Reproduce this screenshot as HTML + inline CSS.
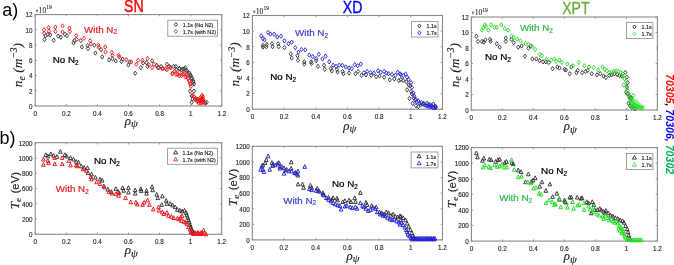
<!DOCTYPE html>
<html><head><meta charset="utf-8"><style>
html,body{margin:0;padding:0;background:#fff;width:674px;height:265px;overflow:hidden}
svg{display:block;filter:blur(0.22px)}
text{font-family:"Liberation Sans",sans-serif}
.tk{font-size:6.3px;fill:#2a2a2a;stroke:#2a2a2a;stroke-width:0.15px}
.xl{font-family:"Liberation Serif",serif;font-style:italic;font-size:13px;fill:#222;stroke:#222;stroke-width:0.15px}
.yl{font-family:"Liberation Serif",serif;font-style:italic;font-size:13.4px;fill:#222;stroke:#222;stroke-width:0.15px}
.ss{font-family:"Liberation Sans",sans-serif;font-style:normal}
.sub{font-size:8px}
.mult{font-family:"Liberation Serif",serif;font-size:6px;fill:#333;stroke:#333;stroke-width:0.12px}
.lg{font-size:5.4px;fill:#111;stroke:#111;stroke-width:0.12px}
.an{font-size:9.8px;stroke-width:0.22px}
.s2{font-size:6.3px}
.ti{font-size:17px;stroke-width:0.4px}
.pl{font-size:18px;fill:#000}
.sh{font-size:10.6px;font-weight:bold;font-style:italic}
</style></head><body>
<svg width="674" height="265" viewBox="0 0 674 265">
<rect x="35.2" y="14.6" width="186.6" height="91.4" fill="none" stroke="#8a8a8a" stroke-width="1.1"/>
<line x1="35.2" y1="106.0" x2="35.2" y2="104.2" stroke="#8a8a8a" stroke-width="0.8"/>
<line x1="35.2" y1="14.6" x2="35.2" y2="16.4" stroke="#8a8a8a" stroke-width="0.8"/>
<text x="35.2" y="115.6" class="tk" text-anchor="middle">0</text>
<line x1="66.3" y1="106.0" x2="66.3" y2="104.2" stroke="#8a8a8a" stroke-width="0.8"/>
<line x1="66.3" y1="14.6" x2="66.3" y2="16.4" stroke="#8a8a8a" stroke-width="0.8"/>
<text x="66.3" y="115.6" class="tk" text-anchor="middle">0.2</text>
<line x1="97.4" y1="106.0" x2="97.4" y2="104.2" stroke="#8a8a8a" stroke-width="0.8"/>
<line x1="97.4" y1="14.6" x2="97.4" y2="16.4" stroke="#8a8a8a" stroke-width="0.8"/>
<text x="97.4" y="115.6" class="tk" text-anchor="middle">0.4</text>
<line x1="128.5" y1="106.0" x2="128.5" y2="104.2" stroke="#8a8a8a" stroke-width="0.8"/>
<line x1="128.5" y1="14.6" x2="128.5" y2="16.4" stroke="#8a8a8a" stroke-width="0.8"/>
<text x="128.5" y="115.6" class="tk" text-anchor="middle">0.6</text>
<line x1="159.6" y1="106.0" x2="159.6" y2="104.2" stroke="#8a8a8a" stroke-width="0.8"/>
<line x1="159.6" y1="14.6" x2="159.6" y2="16.4" stroke="#8a8a8a" stroke-width="0.8"/>
<text x="159.6" y="115.6" class="tk" text-anchor="middle">0.8</text>
<line x1="190.7" y1="106.0" x2="190.7" y2="104.2" stroke="#8a8a8a" stroke-width="0.8"/>
<line x1="190.7" y1="14.6" x2="190.7" y2="16.4" stroke="#8a8a8a" stroke-width="0.8"/>
<text x="190.7" y="115.6" class="tk" text-anchor="middle">1</text>
<line x1="221.8" y1="106.0" x2="221.8" y2="104.2" stroke="#8a8a8a" stroke-width="0.8"/>
<line x1="221.8" y1="14.6" x2="221.8" y2="16.4" stroke="#8a8a8a" stroke-width="0.8"/>
<text x="221.8" y="115.6" class="tk" text-anchor="middle">1.2</text>
<line x1="35.2" y1="106.0" x2="37.0" y2="106.0" stroke="#8a8a8a" stroke-width="0.8"/>
<line x1="221.8" y1="106.0" x2="220.0" y2="106.0" stroke="#8a8a8a" stroke-width="0.8"/>
<text x="32.6" y="108.8" class="tk" text-anchor="end">0</text>
<line x1="35.2" y1="90.8" x2="37.0" y2="90.8" stroke="#8a8a8a" stroke-width="0.8"/>
<line x1="221.8" y1="90.8" x2="220.0" y2="90.8" stroke="#8a8a8a" stroke-width="0.8"/>
<text x="32.6" y="93.6" class="tk" text-anchor="end">2</text>
<line x1="35.2" y1="75.5" x2="37.0" y2="75.5" stroke="#8a8a8a" stroke-width="0.8"/>
<line x1="221.8" y1="75.5" x2="220.0" y2="75.5" stroke="#8a8a8a" stroke-width="0.8"/>
<text x="32.6" y="78.3" class="tk" text-anchor="end">4</text>
<line x1="35.2" y1="60.3" x2="37.0" y2="60.3" stroke="#8a8a8a" stroke-width="0.8"/>
<line x1="221.8" y1="60.3" x2="220.0" y2="60.3" stroke="#8a8a8a" stroke-width="0.8"/>
<text x="32.6" y="63.1" class="tk" text-anchor="end">6</text>
<line x1="35.2" y1="45.1" x2="37.0" y2="45.1" stroke="#8a8a8a" stroke-width="0.8"/>
<line x1="221.8" y1="45.1" x2="220.0" y2="45.1" stroke="#8a8a8a" stroke-width="0.8"/>
<text x="32.6" y="47.9" class="tk" text-anchor="end">8</text>
<line x1="35.2" y1="29.8" x2="37.0" y2="29.8" stroke="#8a8a8a" stroke-width="0.8"/>
<line x1="221.8" y1="29.8" x2="220.0" y2="29.8" stroke="#8a8a8a" stroke-width="0.8"/>
<text x="32.6" y="32.6" class="tk" text-anchor="end">10</text>
<line x1="35.2" y1="14.6" x2="37.0" y2="14.6" stroke="#8a8a8a" stroke-width="0.8"/>
<line x1="221.8" y1="14.6" x2="220.0" y2="14.6" stroke="#8a8a8a" stroke-width="0.8"/>
<text x="32.6" y="17.4" class="tk" text-anchor="end">12</text>
<text x="131.4" y="124.5" class="xl" text-anchor="middle">&#961;<tspan font-size="11" dy="2.5">&#968;</tspan></text>
<text x="35.5" y="12.7" class="mult"><tspan font-size="5.5">&#215;</tspan><tspan font-size="7.6">10</tspan><tspan dy="-3.6" font-size="5.6">19</tspan></text>
<text transform="translate(21.9,65.1) rotate(-90)" class="yl" text-anchor="middle">n<tspan font-size="9.5" dy="2.6">e</tspan><tspan dy="-2.6" dx="3.6">(m</tspan><tspan dy="-4.6" font-size="9.5">&#8722;3</tspan><tspan dy="4.6">)</tspan></text>
<rect x="252.4" y="15.5" width="190.1" height="93.7" fill="none" stroke="#8a8a8a" stroke-width="1.1"/>
<line x1="252.4" y1="109.2" x2="252.4" y2="107.4" stroke="#8a8a8a" stroke-width="0.8"/>
<line x1="252.4" y1="15.5" x2="252.4" y2="17.3" stroke="#8a8a8a" stroke-width="0.8"/>
<text x="252.4" y="118.8" class="tk" text-anchor="middle">0</text>
<line x1="284.1" y1="109.2" x2="284.1" y2="107.4" stroke="#8a8a8a" stroke-width="0.8"/>
<line x1="284.1" y1="15.5" x2="284.1" y2="17.3" stroke="#8a8a8a" stroke-width="0.8"/>
<text x="284.1" y="118.8" class="tk" text-anchor="middle">0.2</text>
<line x1="315.8" y1="109.2" x2="315.8" y2="107.4" stroke="#8a8a8a" stroke-width="0.8"/>
<line x1="315.8" y1="15.5" x2="315.8" y2="17.3" stroke="#8a8a8a" stroke-width="0.8"/>
<text x="315.8" y="118.8" class="tk" text-anchor="middle">0.4</text>
<line x1="347.5" y1="109.2" x2="347.5" y2="107.4" stroke="#8a8a8a" stroke-width="0.8"/>
<line x1="347.5" y1="15.5" x2="347.5" y2="17.3" stroke="#8a8a8a" stroke-width="0.8"/>
<text x="347.5" y="118.8" class="tk" text-anchor="middle">0.6</text>
<line x1="379.1" y1="109.2" x2="379.1" y2="107.4" stroke="#8a8a8a" stroke-width="0.8"/>
<line x1="379.1" y1="15.5" x2="379.1" y2="17.3" stroke="#8a8a8a" stroke-width="0.8"/>
<text x="379.1" y="118.8" class="tk" text-anchor="middle">0.8</text>
<line x1="410.8" y1="109.2" x2="410.8" y2="107.4" stroke="#8a8a8a" stroke-width="0.8"/>
<line x1="410.8" y1="15.5" x2="410.8" y2="17.3" stroke="#8a8a8a" stroke-width="0.8"/>
<text x="410.8" y="118.8" class="tk" text-anchor="middle">1</text>
<line x1="442.5" y1="109.2" x2="442.5" y2="107.4" stroke="#8a8a8a" stroke-width="0.8"/>
<line x1="442.5" y1="15.5" x2="442.5" y2="17.3" stroke="#8a8a8a" stroke-width="0.8"/>
<text x="442.5" y="118.8" class="tk" text-anchor="middle">1.2</text>
<line x1="252.4" y1="109.2" x2="254.2" y2="109.2" stroke="#8a8a8a" stroke-width="0.8"/>
<line x1="442.5" y1="109.2" x2="440.7" y2="109.2" stroke="#8a8a8a" stroke-width="0.8"/>
<text x="249.8" y="112.0" class="tk" text-anchor="end">0</text>
<line x1="252.4" y1="93.6" x2="254.2" y2="93.6" stroke="#8a8a8a" stroke-width="0.8"/>
<line x1="442.5" y1="93.6" x2="440.7" y2="93.6" stroke="#8a8a8a" stroke-width="0.8"/>
<text x="249.8" y="96.4" class="tk" text-anchor="end">2</text>
<line x1="252.4" y1="78.0" x2="254.2" y2="78.0" stroke="#8a8a8a" stroke-width="0.8"/>
<line x1="442.5" y1="78.0" x2="440.7" y2="78.0" stroke="#8a8a8a" stroke-width="0.8"/>
<text x="249.8" y="80.8" class="tk" text-anchor="end">4</text>
<line x1="252.4" y1="62.4" x2="254.2" y2="62.4" stroke="#8a8a8a" stroke-width="0.8"/>
<line x1="442.5" y1="62.4" x2="440.7" y2="62.4" stroke="#8a8a8a" stroke-width="0.8"/>
<text x="249.8" y="65.2" class="tk" text-anchor="end">6</text>
<line x1="252.4" y1="46.7" x2="254.2" y2="46.7" stroke="#8a8a8a" stroke-width="0.8"/>
<line x1="442.5" y1="46.7" x2="440.7" y2="46.7" stroke="#8a8a8a" stroke-width="0.8"/>
<text x="249.8" y="49.5" class="tk" text-anchor="end">8</text>
<line x1="252.4" y1="31.1" x2="254.2" y2="31.1" stroke="#8a8a8a" stroke-width="0.8"/>
<line x1="442.5" y1="31.1" x2="440.7" y2="31.1" stroke="#8a8a8a" stroke-width="0.8"/>
<text x="249.8" y="33.9" class="tk" text-anchor="end">10</text>
<line x1="252.4" y1="15.5" x2="254.2" y2="15.5" stroke="#8a8a8a" stroke-width="0.8"/>
<line x1="442.5" y1="15.5" x2="440.7" y2="15.5" stroke="#8a8a8a" stroke-width="0.8"/>
<text x="249.8" y="18.3" class="tk" text-anchor="end">12</text>
<text x="349.7" y="129.5" class="xl" text-anchor="middle">&#961;<tspan font-size="11" dy="2.5">&#968;</tspan></text>
<text x="252.7" y="13.6" class="mult"><tspan font-size="5.5">&#215;</tspan><tspan font-size="7.6">10</tspan><tspan dy="-3.6" font-size="5.6">19</tspan></text>
<text transform="translate(239.1,64.4) rotate(-90)" class="yl" text-anchor="middle">n<tspan font-size="9.5" dy="2.6">e</tspan><tspan dy="-2.6" dx="3.6">(m</tspan><tspan dy="-4.6" font-size="9.5">&#8722;3</tspan><tspan dy="4.6">)</tspan></text>
<rect x="471.3" y="17.0" width="186.1" height="93.0" fill="none" stroke="#8a8a8a" stroke-width="1.1"/>
<line x1="471.3" y1="110.0" x2="471.3" y2="108.2" stroke="#8a8a8a" stroke-width="0.8"/>
<line x1="471.3" y1="17.0" x2="471.3" y2="18.8" stroke="#8a8a8a" stroke-width="0.8"/>
<text x="471.3" y="119.6" class="tk" text-anchor="middle">0</text>
<line x1="502.3" y1="110.0" x2="502.3" y2="108.2" stroke="#8a8a8a" stroke-width="0.8"/>
<line x1="502.3" y1="17.0" x2="502.3" y2="18.8" stroke="#8a8a8a" stroke-width="0.8"/>
<text x="502.3" y="119.6" class="tk" text-anchor="middle">0.2</text>
<line x1="533.3" y1="110.0" x2="533.3" y2="108.2" stroke="#8a8a8a" stroke-width="0.8"/>
<line x1="533.3" y1="17.0" x2="533.3" y2="18.8" stroke="#8a8a8a" stroke-width="0.8"/>
<text x="533.3" y="119.6" class="tk" text-anchor="middle">0.4</text>
<line x1="564.4" y1="110.0" x2="564.4" y2="108.2" stroke="#8a8a8a" stroke-width="0.8"/>
<line x1="564.4" y1="17.0" x2="564.4" y2="18.8" stroke="#8a8a8a" stroke-width="0.8"/>
<text x="564.4" y="119.6" class="tk" text-anchor="middle">0.6</text>
<line x1="595.4" y1="110.0" x2="595.4" y2="108.2" stroke="#8a8a8a" stroke-width="0.8"/>
<line x1="595.4" y1="17.0" x2="595.4" y2="18.8" stroke="#8a8a8a" stroke-width="0.8"/>
<text x="595.4" y="119.6" class="tk" text-anchor="middle">0.8</text>
<line x1="626.4" y1="110.0" x2="626.4" y2="108.2" stroke="#8a8a8a" stroke-width="0.8"/>
<line x1="626.4" y1="17.0" x2="626.4" y2="18.8" stroke="#8a8a8a" stroke-width="0.8"/>
<text x="626.4" y="119.6" class="tk" text-anchor="middle">1</text>
<line x1="657.4" y1="110.0" x2="657.4" y2="108.2" stroke="#8a8a8a" stroke-width="0.8"/>
<line x1="657.4" y1="17.0" x2="657.4" y2="18.8" stroke="#8a8a8a" stroke-width="0.8"/>
<text x="657.4" y="119.6" class="tk" text-anchor="middle">1.2</text>
<line x1="471.3" y1="110.0" x2="473.1" y2="110.0" stroke="#8a8a8a" stroke-width="0.8"/>
<line x1="657.4" y1="110.0" x2="655.6" y2="110.0" stroke="#8a8a8a" stroke-width="0.8"/>
<text x="468.7" y="112.8" class="tk" text-anchor="end">0</text>
<line x1="471.3" y1="94.5" x2="473.1" y2="94.5" stroke="#8a8a8a" stroke-width="0.8"/>
<line x1="657.4" y1="94.5" x2="655.6" y2="94.5" stroke="#8a8a8a" stroke-width="0.8"/>
<text x="468.7" y="97.3" class="tk" text-anchor="end">2</text>
<line x1="471.3" y1="79.0" x2="473.1" y2="79.0" stroke="#8a8a8a" stroke-width="0.8"/>
<line x1="657.4" y1="79.0" x2="655.6" y2="79.0" stroke="#8a8a8a" stroke-width="0.8"/>
<text x="468.7" y="81.8" class="tk" text-anchor="end">4</text>
<line x1="471.3" y1="63.5" x2="473.1" y2="63.5" stroke="#8a8a8a" stroke-width="0.8"/>
<line x1="657.4" y1="63.5" x2="655.6" y2="63.5" stroke="#8a8a8a" stroke-width="0.8"/>
<text x="468.7" y="66.3" class="tk" text-anchor="end">6</text>
<line x1="471.3" y1="48.0" x2="473.1" y2="48.0" stroke="#8a8a8a" stroke-width="0.8"/>
<line x1="657.4" y1="48.0" x2="655.6" y2="48.0" stroke="#8a8a8a" stroke-width="0.8"/>
<text x="468.7" y="50.8" class="tk" text-anchor="end">8</text>
<line x1="471.3" y1="32.5" x2="473.1" y2="32.5" stroke="#8a8a8a" stroke-width="0.8"/>
<line x1="657.4" y1="32.5" x2="655.6" y2="32.5" stroke="#8a8a8a" stroke-width="0.8"/>
<text x="468.7" y="35.3" class="tk" text-anchor="end">10</text>
<line x1="471.3" y1="17.0" x2="473.1" y2="17.0" stroke="#8a8a8a" stroke-width="0.8"/>
<line x1="657.4" y1="17.0" x2="655.6" y2="17.0" stroke="#8a8a8a" stroke-width="0.8"/>
<text x="468.7" y="19.8" class="tk" text-anchor="end">12</text>
<text x="570.4" y="130.0" class="xl" text-anchor="middle">&#961;<tspan font-size="11" dy="2.5">&#968;</tspan></text>
<text x="471.6" y="15.1" class="mult"><tspan font-size="5.5">&#215;</tspan><tspan font-size="7.6">10</tspan><tspan dy="-3.6" font-size="5.6">19</tspan></text>
<text transform="translate(458.5,65.1) rotate(-90)" class="yl" text-anchor="middle">n<tspan font-size="9.5" dy="2.6">e</tspan><tspan dy="-2.6" dx="3.6">(m</tspan><tspan dy="-4.6" font-size="9.5">&#8722;3</tspan><tspan dy="4.6">)</tspan></text>
<rect x="35.2" y="142.7" width="186.5" height="91.6" fill="none" stroke="#8a8a8a" stroke-width="1.1"/>
<line x1="35.2" y1="234.3" x2="35.2" y2="232.5" stroke="#8a8a8a" stroke-width="0.8"/>
<line x1="35.2" y1="142.7" x2="35.2" y2="144.5" stroke="#8a8a8a" stroke-width="0.8"/>
<text x="35.2" y="243.9" class="tk" text-anchor="middle">0</text>
<line x1="66.3" y1="234.3" x2="66.3" y2="232.5" stroke="#8a8a8a" stroke-width="0.8"/>
<line x1="66.3" y1="142.7" x2="66.3" y2="144.5" stroke="#8a8a8a" stroke-width="0.8"/>
<text x="66.3" y="243.9" class="tk" text-anchor="middle">0.2</text>
<line x1="97.4" y1="234.3" x2="97.4" y2="232.5" stroke="#8a8a8a" stroke-width="0.8"/>
<line x1="97.4" y1="142.7" x2="97.4" y2="144.5" stroke="#8a8a8a" stroke-width="0.8"/>
<text x="97.4" y="243.9" class="tk" text-anchor="middle">0.4</text>
<line x1="128.5" y1="234.3" x2="128.5" y2="232.5" stroke="#8a8a8a" stroke-width="0.8"/>
<line x1="128.5" y1="142.7" x2="128.5" y2="144.5" stroke="#8a8a8a" stroke-width="0.8"/>
<text x="128.5" y="243.9" class="tk" text-anchor="middle">0.6</text>
<line x1="159.5" y1="234.3" x2="159.5" y2="232.5" stroke="#8a8a8a" stroke-width="0.8"/>
<line x1="159.5" y1="142.7" x2="159.5" y2="144.5" stroke="#8a8a8a" stroke-width="0.8"/>
<text x="159.5" y="243.9" class="tk" text-anchor="middle">0.8</text>
<line x1="190.6" y1="234.3" x2="190.6" y2="232.5" stroke="#8a8a8a" stroke-width="0.8"/>
<line x1="190.6" y1="142.7" x2="190.6" y2="144.5" stroke="#8a8a8a" stroke-width="0.8"/>
<text x="190.6" y="243.9" class="tk" text-anchor="middle">1</text>
<line x1="221.7" y1="234.3" x2="221.7" y2="232.5" stroke="#8a8a8a" stroke-width="0.8"/>
<line x1="221.7" y1="142.7" x2="221.7" y2="144.5" stroke="#8a8a8a" stroke-width="0.8"/>
<text x="221.7" y="243.9" class="tk" text-anchor="middle">1.2</text>
<line x1="35.2" y1="234.3" x2="37.0" y2="234.3" stroke="#8a8a8a" stroke-width="0.8"/>
<line x1="221.7" y1="234.3" x2="219.9" y2="234.3" stroke="#8a8a8a" stroke-width="0.8"/>
<text x="32.6" y="237.1" class="tk" text-anchor="end">0</text>
<line x1="35.2" y1="219.0" x2="37.0" y2="219.0" stroke="#8a8a8a" stroke-width="0.8"/>
<line x1="221.7" y1="219.0" x2="219.9" y2="219.0" stroke="#8a8a8a" stroke-width="0.8"/>
<text x="32.6" y="221.8" class="tk" text-anchor="end">200</text>
<line x1="35.2" y1="203.8" x2="37.0" y2="203.8" stroke="#8a8a8a" stroke-width="0.8"/>
<line x1="221.7" y1="203.8" x2="219.9" y2="203.8" stroke="#8a8a8a" stroke-width="0.8"/>
<text x="32.6" y="206.6" class="tk" text-anchor="end">400</text>
<line x1="35.2" y1="188.5" x2="37.0" y2="188.5" stroke="#8a8a8a" stroke-width="0.8"/>
<line x1="221.7" y1="188.5" x2="219.9" y2="188.5" stroke="#8a8a8a" stroke-width="0.8"/>
<text x="32.6" y="191.3" class="tk" text-anchor="end">600</text>
<line x1="35.2" y1="173.2" x2="37.0" y2="173.2" stroke="#8a8a8a" stroke-width="0.8"/>
<line x1="221.7" y1="173.2" x2="219.9" y2="173.2" stroke="#8a8a8a" stroke-width="0.8"/>
<text x="32.6" y="176.0" class="tk" text-anchor="end">800</text>
<line x1="35.2" y1="158.0" x2="37.0" y2="158.0" stroke="#8a8a8a" stroke-width="0.8"/>
<line x1="221.7" y1="158.0" x2="219.9" y2="158.0" stroke="#8a8a8a" stroke-width="0.8"/>
<text x="32.6" y="160.8" class="tk" text-anchor="end">1000</text>
<line x1="35.2" y1="142.7" x2="37.0" y2="142.7" stroke="#8a8a8a" stroke-width="0.8"/>
<line x1="221.7" y1="142.7" x2="219.9" y2="142.7" stroke="#8a8a8a" stroke-width="0.8"/>
<text x="32.6" y="145.5" class="tk" text-anchor="end">1200</text>
<text x="131.4" y="254.0" class="xl" text-anchor="middle">&#961;<tspan font-size="11" dy="2.5">&#968;</tspan></text>
<text transform="translate(18.6,190.7) rotate(-90)" class="yl" font-size="11" text-anchor="middle">T<tspan font-size="9" dy="2.3">e</tspan><tspan dy="-2.3" dx="4.5" class="ss" font-size="11.3">(eV)</tspan></text>
<rect x="252.3" y="146.3" width="190.2" height="93.6" fill="none" stroke="#8a8a8a" stroke-width="1.1"/>
<line x1="252.3" y1="239.9" x2="252.3" y2="238.1" stroke="#8a8a8a" stroke-width="0.8"/>
<line x1="252.3" y1="146.3" x2="252.3" y2="148.1" stroke="#8a8a8a" stroke-width="0.8"/>
<text x="252.3" y="249.5" class="tk" text-anchor="middle">0</text>
<line x1="284.0" y1="239.9" x2="284.0" y2="238.1" stroke="#8a8a8a" stroke-width="0.8"/>
<line x1="284.0" y1="146.3" x2="284.0" y2="148.1" stroke="#8a8a8a" stroke-width="0.8"/>
<text x="284.0" y="249.5" class="tk" text-anchor="middle">0.2</text>
<line x1="315.7" y1="239.9" x2="315.7" y2="238.1" stroke="#8a8a8a" stroke-width="0.8"/>
<line x1="315.7" y1="146.3" x2="315.7" y2="148.1" stroke="#8a8a8a" stroke-width="0.8"/>
<text x="315.7" y="249.5" class="tk" text-anchor="middle">0.4</text>
<line x1="347.4" y1="239.9" x2="347.4" y2="238.1" stroke="#8a8a8a" stroke-width="0.8"/>
<line x1="347.4" y1="146.3" x2="347.4" y2="148.1" stroke="#8a8a8a" stroke-width="0.8"/>
<text x="347.4" y="249.5" class="tk" text-anchor="middle">0.6</text>
<line x1="379.1" y1="239.9" x2="379.1" y2="238.1" stroke="#8a8a8a" stroke-width="0.8"/>
<line x1="379.1" y1="146.3" x2="379.1" y2="148.1" stroke="#8a8a8a" stroke-width="0.8"/>
<text x="379.1" y="249.5" class="tk" text-anchor="middle">0.8</text>
<line x1="410.8" y1="239.9" x2="410.8" y2="238.1" stroke="#8a8a8a" stroke-width="0.8"/>
<line x1="410.8" y1="146.3" x2="410.8" y2="148.1" stroke="#8a8a8a" stroke-width="0.8"/>
<text x="410.8" y="249.5" class="tk" text-anchor="middle">1</text>
<line x1="442.5" y1="239.9" x2="442.5" y2="238.1" stroke="#8a8a8a" stroke-width="0.8"/>
<line x1="442.5" y1="146.3" x2="442.5" y2="148.1" stroke="#8a8a8a" stroke-width="0.8"/>
<text x="442.5" y="249.5" class="tk" text-anchor="middle">1.2</text>
<line x1="252.3" y1="239.9" x2="254.1" y2="239.9" stroke="#8a8a8a" stroke-width="0.8"/>
<line x1="442.5" y1="239.9" x2="440.7" y2="239.9" stroke="#8a8a8a" stroke-width="0.8"/>
<text x="249.7" y="242.7" class="tk" text-anchor="end">0</text>
<line x1="252.3" y1="224.3" x2="254.1" y2="224.3" stroke="#8a8a8a" stroke-width="0.8"/>
<line x1="442.5" y1="224.3" x2="440.7" y2="224.3" stroke="#8a8a8a" stroke-width="0.8"/>
<text x="249.7" y="227.1" class="tk" text-anchor="end">200</text>
<line x1="252.3" y1="208.7" x2="254.1" y2="208.7" stroke="#8a8a8a" stroke-width="0.8"/>
<line x1="442.5" y1="208.7" x2="440.7" y2="208.7" stroke="#8a8a8a" stroke-width="0.8"/>
<text x="249.7" y="211.5" class="tk" text-anchor="end">400</text>
<line x1="252.3" y1="193.1" x2="254.1" y2="193.1" stroke="#8a8a8a" stroke-width="0.8"/>
<line x1="442.5" y1="193.1" x2="440.7" y2="193.1" stroke="#8a8a8a" stroke-width="0.8"/>
<text x="249.7" y="195.9" class="tk" text-anchor="end">600</text>
<line x1="252.3" y1="177.5" x2="254.1" y2="177.5" stroke="#8a8a8a" stroke-width="0.8"/>
<line x1="442.5" y1="177.5" x2="440.7" y2="177.5" stroke="#8a8a8a" stroke-width="0.8"/>
<text x="249.7" y="180.3" class="tk" text-anchor="end">800</text>
<line x1="252.3" y1="161.9" x2="254.1" y2="161.9" stroke="#8a8a8a" stroke-width="0.8"/>
<line x1="442.5" y1="161.9" x2="440.7" y2="161.9" stroke="#8a8a8a" stroke-width="0.8"/>
<text x="249.7" y="164.7" class="tk" text-anchor="end">1000</text>
<line x1="252.3" y1="146.3" x2="254.1" y2="146.3" stroke="#8a8a8a" stroke-width="0.8"/>
<line x1="442.5" y1="146.3" x2="440.7" y2="146.3" stroke="#8a8a8a" stroke-width="0.8"/>
<text x="249.7" y="149.1" class="tk" text-anchor="end">1200</text>
<text x="353.0" y="259.5" class="xl" text-anchor="middle">&#961;<tspan font-size="11" dy="2.5">&#968;</tspan></text>
<text transform="translate(236.7,187.5) rotate(-90)" class="yl" font-size="11" text-anchor="middle">T<tspan font-size="9" dy="2.3">e</tspan><tspan dy="-2.3" dx="4.5" class="ss" font-size="11.3">(eV)</tspan></text>
<rect x="471.4" y="147.6" width="186.0" height="93.5" fill="none" stroke="#8a8a8a" stroke-width="1.1"/>
<line x1="471.4" y1="241.1" x2="471.4" y2="239.3" stroke="#8a8a8a" stroke-width="0.8"/>
<line x1="471.4" y1="147.6" x2="471.4" y2="149.4" stroke="#8a8a8a" stroke-width="0.8"/>
<text x="471.4" y="250.7" class="tk" text-anchor="middle">0</text>
<line x1="502.4" y1="241.1" x2="502.4" y2="239.3" stroke="#8a8a8a" stroke-width="0.8"/>
<line x1="502.4" y1="147.6" x2="502.4" y2="149.4" stroke="#8a8a8a" stroke-width="0.8"/>
<text x="502.4" y="250.7" class="tk" text-anchor="middle">0.2</text>
<line x1="533.4" y1="241.1" x2="533.4" y2="239.3" stroke="#8a8a8a" stroke-width="0.8"/>
<line x1="533.4" y1="147.6" x2="533.4" y2="149.4" stroke="#8a8a8a" stroke-width="0.8"/>
<text x="533.4" y="250.7" class="tk" text-anchor="middle">0.4</text>
<line x1="564.4" y1="241.1" x2="564.4" y2="239.3" stroke="#8a8a8a" stroke-width="0.8"/>
<line x1="564.4" y1="147.6" x2="564.4" y2="149.4" stroke="#8a8a8a" stroke-width="0.8"/>
<text x="564.4" y="250.7" class="tk" text-anchor="middle">0.6</text>
<line x1="595.4" y1="241.1" x2="595.4" y2="239.3" stroke="#8a8a8a" stroke-width="0.8"/>
<line x1="595.4" y1="147.6" x2="595.4" y2="149.4" stroke="#8a8a8a" stroke-width="0.8"/>
<text x="595.4" y="250.7" class="tk" text-anchor="middle">0.8</text>
<line x1="626.4" y1="241.1" x2="626.4" y2="239.3" stroke="#8a8a8a" stroke-width="0.8"/>
<line x1="626.4" y1="147.6" x2="626.4" y2="149.4" stroke="#8a8a8a" stroke-width="0.8"/>
<text x="626.4" y="250.7" class="tk" text-anchor="middle">1</text>
<line x1="657.4" y1="241.1" x2="657.4" y2="239.3" stroke="#8a8a8a" stroke-width="0.8"/>
<line x1="657.4" y1="147.6" x2="657.4" y2="149.4" stroke="#8a8a8a" stroke-width="0.8"/>
<text x="657.4" y="250.7" class="tk" text-anchor="middle">1.2</text>
<line x1="471.4" y1="241.1" x2="473.2" y2="241.1" stroke="#8a8a8a" stroke-width="0.8"/>
<line x1="657.4" y1="241.1" x2="655.6" y2="241.1" stroke="#8a8a8a" stroke-width="0.8"/>
<text x="468.8" y="243.9" class="tk" text-anchor="end">0</text>
<line x1="471.4" y1="225.5" x2="473.2" y2="225.5" stroke="#8a8a8a" stroke-width="0.8"/>
<line x1="657.4" y1="225.5" x2="655.6" y2="225.5" stroke="#8a8a8a" stroke-width="0.8"/>
<text x="468.8" y="228.3" class="tk" text-anchor="end">200</text>
<line x1="471.4" y1="209.9" x2="473.2" y2="209.9" stroke="#8a8a8a" stroke-width="0.8"/>
<line x1="657.4" y1="209.9" x2="655.6" y2="209.9" stroke="#8a8a8a" stroke-width="0.8"/>
<text x="468.8" y="212.7" class="tk" text-anchor="end">400</text>
<line x1="471.4" y1="194.3" x2="473.2" y2="194.3" stroke="#8a8a8a" stroke-width="0.8"/>
<line x1="657.4" y1="194.3" x2="655.6" y2="194.3" stroke="#8a8a8a" stroke-width="0.8"/>
<text x="468.8" y="197.2" class="tk" text-anchor="end">600</text>
<line x1="471.4" y1="178.8" x2="473.2" y2="178.8" stroke="#8a8a8a" stroke-width="0.8"/>
<line x1="657.4" y1="178.8" x2="655.6" y2="178.8" stroke="#8a8a8a" stroke-width="0.8"/>
<text x="468.8" y="181.6" class="tk" text-anchor="end">800</text>
<line x1="471.4" y1="163.2" x2="473.2" y2="163.2" stroke="#8a8a8a" stroke-width="0.8"/>
<line x1="657.4" y1="163.2" x2="655.6" y2="163.2" stroke="#8a8a8a" stroke-width="0.8"/>
<text x="468.8" y="166.0" class="tk" text-anchor="end">1000</text>
<line x1="471.4" y1="147.6" x2="473.2" y2="147.6" stroke="#8a8a8a" stroke-width="0.8"/>
<line x1="657.4" y1="147.6" x2="655.6" y2="147.6" stroke="#8a8a8a" stroke-width="0.8"/>
<text x="468.8" y="150.4" class="tk" text-anchor="end">1200</text>
<text x="570.4" y="260.4" class="xl" text-anchor="middle">&#961;<tspan font-size="11" dy="2.5">&#968;</tspan></text>
<text transform="translate(455.8,189.5) rotate(-90)" class="yl" font-size="11" text-anchor="middle">T<tspan font-size="9" dy="2.3">e</tspan><tspan dy="-2.3" dx="4.5" class="ss" font-size="11.3">(eV)</tspan></text>
<path d="M194.5 96.5L197.0 97.0L199.5 98.0L201.0 95.5L202.8 95.0L204.6 97.5L205.6 100.0L205.6 102.8L204.5 104.3L202.4 105.2L200.2 104.6L198.0 103.0L195.8 100.8L194.6 98.9Z" fill="#e81818" fill-opacity="0.5" stroke="none"/>
<path d="M628.1 97.8L632.0 97.0L634.3 99.2L637.1 99.6L639.9 102.5L643.7 106.2L644.4 108.0L640.9 108.6L636.2 108.1L632.4 107.2L629.5 105.3L628.4 102.0Z" fill="#30e830" fill-opacity="0.55" stroke="none"/>
<path d="M44.5 37.3L46.1 39.5L44.5 41.6L42.9 39.5ZM45.7 33.5L47.3 35.6L45.7 37.8L44.1 35.6ZM47.9 32.1L49.5 34.3L47.9 36.4L46.3 34.3ZM50.2 32.8L51.8 35.0L50.2 37.1L48.6 35.0ZM53.6 38.0L55.2 40.2L53.6 42.3L52.0 40.2ZM58.1 33.9L59.7 36.1L58.1 38.2L56.5 36.1ZM60.8 35.1L62.4 37.2L60.8 39.4L59.2 37.2ZM64.9 32.1L66.5 34.3L64.9 36.4L63.3 34.3ZM67.1 33.5L68.7 35.6L67.1 37.8L65.5 35.6ZM73.5 40.7L75.1 42.9L73.5 45.0L71.9 42.9ZM74.4 38.5L76.0 40.6L74.4 42.8L72.8 40.6ZM80.7 38.5L82.3 40.6L80.7 42.8L79.1 40.6ZM81.9 44.8L83.5 47.0L81.9 49.1L80.3 47.0ZM87.5 43.5L89.1 45.6L87.5 47.8L85.9 45.6ZM88.0 46.4L89.6 48.5L88.0 50.7L86.4 48.5ZM94.3 43.0L95.9 45.1L94.3 47.3L92.7 45.1ZM95.4 50.9L97.0 53.1L95.4 55.2L93.8 53.1ZM101.1 47.5L102.7 49.7L101.1 51.8L99.5 49.7ZM102.2 54.8L103.8 56.9L102.2 59.1L100.6 56.9ZM109.0 57.7L110.6 59.9L109.0 62.0L107.4 59.9ZM112.4 56.6L114.0 58.7L112.4 60.9L110.8 58.7ZM115.8 58.8L117.4 61.0L115.8 63.1L114.2 61.0ZM121.4 59.3L123.0 61.4L121.4 63.6L119.8 61.4ZM122.6 57.0L124.2 59.2L122.6 61.3L121.0 59.2ZM128.4 62.8L130.0 64.9L128.4 67.1L126.8 64.9ZM129.5 59.8L131.1 62.0L129.5 64.1L127.9 62.0ZM135.2 71.1L136.8 73.3L135.2 75.4L133.6 73.3ZM140.8 65.5L142.4 67.6L140.8 69.8L139.2 67.6ZM143.1 60.9L144.7 63.1L143.1 65.2L141.5 63.1ZM146.5 60.5L148.1 62.6L146.5 64.8L144.9 62.6ZM147.6 64.3L149.2 66.5L147.6 68.6L146.0 66.5ZM152.1 58.7L153.7 60.8L152.1 63.0L150.5 60.8ZM156.7 63.2L158.3 65.4L156.7 67.5L155.1 65.4ZM158.9 65.5L160.5 67.6L158.9 69.8L157.3 67.6ZM161.2 64.3L162.8 66.5L161.2 68.6L159.6 66.5ZM166.9 62.1L168.5 64.2L166.9 66.4L165.3 64.2ZM169.1 64.3L170.7 66.5L169.1 68.6L167.5 66.5ZM173.6 64.3L175.2 66.5L173.6 68.6L172.0 66.5ZM175.9 64.3L177.5 66.5L175.9 68.6L174.3 66.5ZM179.3 66.6L180.9 68.8L179.3 70.9L177.7 68.8ZM181.6 67.7L183.2 69.9L181.6 72.0L180.0 69.9ZM184.3 66.6L185.9 68.8L184.3 70.9L182.7 68.8ZM187.2 68.9L188.8 71.0L187.2 73.2L185.6 71.0ZM190.1 72.4L191.7 74.5L190.1 76.7L188.5 74.5ZM191.7 75.5L193.3 77.7L191.7 79.8L190.1 77.7ZM193.3 78.7L194.9 80.9L193.3 83.0L191.7 80.9ZM194.0 81.9L195.6 84.0L194.0 86.2L192.4 84.0ZM190.1 89.0L191.7 91.2L190.1 93.3L188.5 91.2ZM194.0 89.0L195.6 91.2L194.0 93.3L192.4 91.2ZM191.7 93.8L193.3 96.0L191.7 98.1L190.1 96.0ZM192.5 97.0L194.1 99.1L192.5 101.3L190.9 99.1ZM191.7 100.2L193.3 102.3L191.7 104.5L190.1 102.3ZM205.2 100.9L206.8 103.1L205.2 105.2L203.6 103.1ZM206.7 100.2L208.3 102.3L206.7 104.5L205.1 102.3ZM176.1 67.5L177.7 69.6L176.1 71.8L174.5 69.6ZM179.3 66.4L180.9 68.6L179.3 70.7L177.7 68.6ZM182.8 67.0L184.4 69.1L182.8 71.3L181.2 69.1ZM185.4 65.6L187.0 67.8L185.4 69.9L183.8 67.8ZM186.7 68.3L188.3 70.4L186.7 72.6L185.1 70.4ZM189.4 70.9L191.0 73.1L189.4 75.2L187.8 73.1ZM190.7 73.6L192.3 75.7L190.7 77.9L189.1 75.7ZM192.0 76.2L193.6 78.4L192.0 80.5L190.4 78.4ZM193.3 80.2L194.9 82.3L193.3 84.5L191.7 82.3Z" fill="none" stroke="#333333" stroke-width="0.9" stroke-linejoin="round"/>
<path d="M44.1 27.6L45.7 29.8L44.1 31.9L42.5 29.8ZM44.1 31.2L45.7 33.4L44.1 35.5L42.5 33.4ZM48.6 25.4L50.2 27.5L48.6 29.7L47.0 27.5ZM49.0 29.0L50.6 31.1L49.0 33.3L47.4 31.1ZM55.4 24.9L57.0 27.0L55.4 29.2L53.8 27.0ZM55.4 29.4L57.0 31.6L55.4 33.7L53.8 31.6ZM62.6 23.8L64.2 25.9L62.6 28.1L61.0 25.9ZM62.6 29.9L64.2 32.0L62.6 34.2L61.0 32.0ZM69.4 26.0L71.0 28.2L69.4 30.3L67.8 28.2ZM69.9 29.4L71.5 31.6L69.9 33.7L68.3 31.6ZM76.2 33.5L77.8 35.6L76.2 37.8L74.6 35.6ZM76.7 37.3L78.3 39.5L76.7 41.6L75.1 39.5ZM84.1 36.2L85.7 38.4L84.1 40.5L82.5 38.4ZM90.2 38.5L91.8 40.6L90.2 42.8L88.6 40.6ZM90.9 41.9L92.5 44.0L90.9 46.2L89.3 44.0ZM98.4 43.0L100.0 45.1L98.4 47.3L96.8 45.1ZM98.8 45.3L100.4 47.4L98.8 49.6L97.2 47.4ZM105.2 44.8L106.8 47.0L105.2 49.1L103.6 47.0ZM105.6 49.8L107.2 51.9L105.6 54.1L104.0 51.9ZM111.9 50.2L113.5 52.4L111.9 54.5L110.3 52.4ZM112.4 53.2L114.0 55.3L112.4 57.5L110.8 55.3ZM118.7 53.2L120.3 55.3L118.7 57.5L117.1 55.3ZM119.2 54.8L120.8 56.9L119.2 59.1L117.6 56.9ZM126.1 57.6L127.7 59.7L126.1 61.9L124.5 59.7ZM131.3 59.8L132.9 62.0L131.3 64.1L129.7 62.0ZM136.3 62.1L137.9 64.2L136.3 66.4L134.7 64.2ZM138.1 58.2L139.7 60.4L138.1 62.5L136.5 60.4ZM142.6 58.2L144.2 60.4L142.6 62.5L141.0 60.4ZM147.6 56.4L149.2 58.6L147.6 60.7L146.0 58.6ZM148.8 62.8L150.4 64.9L148.8 67.1L147.2 64.9ZM152.1 65.5L153.7 67.6L152.1 69.8L150.5 67.6ZM154.0 62.1L155.6 64.2L154.0 66.4L152.4 64.2ZM157.8 65.5L159.4 67.6L157.8 69.8L156.2 67.6ZM162.3 66.6L163.9 68.8L162.3 70.9L160.7 68.8ZM165.7 66.6L167.3 68.8L165.7 70.9L164.1 68.8ZM170.2 65.0L171.8 67.2L170.2 69.3L168.6 67.2ZM172.5 71.1L174.1 73.3L172.5 75.4L170.9 73.3ZM175.9 72.3L177.5 74.4L175.9 76.6L174.3 74.4ZM179.3 73.4L180.9 75.5L179.3 77.7L177.7 75.5ZM182.7 72.3L184.3 74.4L182.7 76.6L181.1 74.4ZM185.0 71.1L186.6 73.3L185.0 75.4L183.4 73.3ZM187.2 74.5L188.8 76.7L187.2 78.8L185.6 76.7ZM189.3 78.7L190.9 80.9L189.3 83.0L187.7 80.9ZM190.1 81.9L191.7 84.0L190.1 86.2L188.5 84.0ZM190.9 84.3L192.5 86.4L190.9 88.6L189.3 86.4ZM192.5 93.0L194.1 95.2L192.5 97.3L190.9 95.2ZM194.0 94.6L195.6 96.7L194.0 98.9L192.4 96.7ZM195.6 96.2L197.2 98.3L195.6 100.5L194.0 98.3ZM197.2 97.0L198.8 99.1L197.2 101.3L195.6 99.1ZM198.8 97.8L200.4 99.9L198.8 102.1L197.2 99.9ZM200.4 95.4L202.0 97.5L200.4 99.7L198.8 97.5ZM202.0 93.0L203.6 95.2L202.0 97.3L200.4 95.2ZM202.8 97.0L204.4 99.1L202.8 101.3L201.2 99.1ZM203.6 99.4L205.2 101.5L203.6 103.7L202.0 101.5ZM204.4 100.2L206.0 102.3L204.4 104.5L202.8 102.3ZM201.2 100.9L202.8 103.1L201.2 105.2L199.6 103.1ZM198.8 100.9L200.4 103.1L198.8 105.2L197.2 103.1ZM197.2 99.4L198.8 101.5L197.2 103.7L195.6 101.5ZM195.6 97.8L197.2 99.9L195.6 102.1L194.0 99.9ZM200.4 98.6L202.0 100.7L200.4 102.9L198.8 100.7ZM202.0 99.0L203.6 101.2L202.0 103.3L200.4 101.2ZM202.8 94.6L204.4 96.7L202.8 98.9L201.2 96.7ZM201.2 97.0L202.8 99.1L201.2 101.3L199.6 99.1ZM162.9 66.4L164.5 68.6L162.9 70.7L161.3 68.6ZM166.9 67.5L168.5 69.6L166.9 71.8L165.3 69.6ZM170.8 65.6L172.4 67.8L170.8 69.9L169.2 67.8ZM172.2 71.7L173.8 73.9L172.2 76.0L170.6 73.9ZM174.8 69.1L176.4 71.2L174.8 73.4L173.2 71.2ZM177.5 72.2L179.1 74.4L177.5 76.5L175.9 74.4ZM179.3 70.1L180.9 72.3L179.3 74.4L177.7 72.3ZM181.4 73.6L183.0 75.7L181.4 77.9L179.8 75.7ZM183.5 71.7L185.1 73.9L183.5 76.0L181.9 73.9ZM185.4 74.9L187.0 77.0L185.4 79.2L183.8 77.0ZM186.7 72.2L188.3 74.4L186.7 76.5L185.1 74.4ZM188.0 76.2L189.6 78.4L188.0 80.5L186.4 78.4ZM189.4 78.9L191.0 81.0L189.4 83.2L187.8 81.0ZM190.7 81.5L192.3 83.7L190.7 85.8L189.1 83.7Z" fill="none" stroke="#e8121a" stroke-width="0.9" stroke-linejoin="round"/>
<path d="M262.9 45.0L264.5 47.1L262.9 49.3L261.3 47.1ZM262.9 43.2L264.5 45.3L262.9 47.5L261.3 45.3ZM266.3 44.5L267.9 46.7L266.3 48.8L264.7 46.7ZM266.8 42.3L268.4 44.4L266.8 46.6L265.2 44.4ZM272.0 41.6L273.6 43.8L272.0 45.9L270.4 43.8ZM272.6 44.5L274.2 46.7L272.6 48.8L271.0 46.7ZM278.1 41.6L279.7 43.8L278.1 45.9L276.5 43.8ZM278.8 44.5L280.4 46.7L278.8 48.8L277.2 46.7ZM284.4 45.5L286.0 47.6L284.4 49.8L282.8 47.6ZM290.7 51.8L292.3 53.9L290.7 56.1L289.1 53.9ZM291.7 55.9L293.3 58.0L291.7 60.2L290.1 58.0ZM297.5 53.6L299.1 55.7L297.5 57.9L295.9 55.7ZM298.0 58.1L299.6 60.3L298.0 62.4L296.4 60.3ZM304.3 59.7L305.9 61.9L304.3 64.0L302.7 61.9ZM304.3 62.0L305.9 64.1L304.3 66.3L302.7 64.1ZM311.1 59.7L312.7 61.9L311.1 64.0L309.5 61.9ZM311.6 61.3L313.2 63.4L311.6 65.6L310.0 63.4ZM316.1 58.6L317.7 60.7L316.1 62.9L314.5 60.7ZM317.9 64.2L319.5 66.4L317.9 68.5L316.3 66.4ZM324.0 63.1L325.6 65.2L324.0 67.4L322.4 65.2ZM324.7 67.2L326.3 69.3L324.7 71.5L323.1 69.3ZM330.8 66.5L332.4 68.6L330.8 70.8L329.2 68.6ZM331.9 68.8L333.5 70.9L331.9 73.1L330.3 70.9ZM336.9 67.2L338.5 69.3L336.9 71.5L335.3 69.3ZM337.6 69.9L339.2 72.0L337.6 74.2L336.0 72.0ZM342.7 69.3L344.3 71.5L342.7 73.6L341.1 71.5ZM343.4 71.6L345.0 73.8L343.4 75.9L341.8 73.8ZM349.0 70.9L350.6 73.1L349.0 75.2L347.4 73.1ZM355.4 71.6L357.0 73.8L355.4 75.9L353.8 73.8ZM358.1 69.3L359.7 71.5L358.1 73.6L356.5 71.5ZM361.5 73.2L363.1 75.3L361.5 77.5L359.9 75.3ZM366.0 72.7L367.6 74.9L366.0 77.0L364.4 74.9ZM371.2 73.2L372.8 75.3L371.2 77.5L369.6 75.3ZM376.2 74.5L377.8 76.7L376.2 78.8L374.6 76.7ZM379.6 73.9L381.2 76.0L379.6 78.2L378.0 76.0ZM384.1 75.0L385.7 77.1L384.1 79.3L382.5 77.1ZM389.8 77.7L391.4 79.9L389.8 82.0L388.2 79.9ZM394.3 76.8L395.9 79.0L394.3 81.1L392.7 79.0ZM398.8 78.4L400.4 80.5L398.8 82.7L397.2 80.5ZM400.8 77.4L402.4 79.5L400.8 81.7L399.2 79.5ZM403.2 78.2L404.8 80.3L403.2 82.5L401.6 80.3ZM406.3 79.8L407.9 81.9L406.3 84.1L404.7 81.9ZM408.7 82.9L410.3 85.1L408.7 87.2L407.1 85.1ZM410.3 83.7L411.9 85.9L410.3 88.0L408.7 85.9ZM407.1 87.7L408.7 89.8L407.1 92.0L405.5 89.8ZM411.1 89.3L412.7 91.4L411.1 93.6L409.5 91.4ZM411.9 91.7L413.5 93.8L411.9 96.0L410.3 93.8ZM409.5 96.4L411.1 98.6L409.5 100.7L407.9 98.6ZM413.5 95.6L415.1 97.8L413.5 99.9L411.9 97.8ZM415.1 98.0L416.7 100.2L415.1 102.3L413.5 100.2ZM415.9 103.6L417.5 105.7L415.9 107.9L414.3 105.7ZM418.3 104.4L419.9 106.5L418.3 108.7L416.7 106.5ZM420.6 102.8L422.2 104.9L420.6 107.1L419.0 104.9ZM423.8 101.2L425.4 103.3L423.8 105.5L422.2 103.3ZM427.0 101.2L428.6 103.3L427.0 105.5L425.4 103.3ZM430.2 102.5L431.8 104.6L430.2 106.8L428.6 104.6ZM433.3 102.0L434.9 104.1L433.3 106.3L431.7 104.1ZM435.7 104.4L437.3 106.5L435.7 108.7L434.1 106.5Z" fill="none" stroke="#333333" stroke-width="0.9" stroke-linejoin="round"/>
<path d="M261.3 33.7L262.9 35.8L261.3 38.0L259.7 35.8ZM262.9 36.4L264.5 38.6L262.9 40.7L261.3 38.6ZM264.5 37.8L266.1 39.9L264.5 42.1L262.9 39.9ZM268.1 30.3L269.7 32.4L268.1 34.6L266.5 32.4ZM270.4 31.9L272.0 34.0L270.4 36.2L268.8 34.0ZM274.2 31.9L275.8 34.0L274.2 36.2L272.6 34.0ZM277.2 34.8L278.8 37.0L277.2 39.1L275.6 37.0ZM281.0 34.1L282.6 36.3L281.0 38.4L279.4 36.3ZM284.4 38.7L286.0 40.8L284.4 43.0L282.8 40.8ZM288.5 41.6L290.1 43.8L288.5 45.9L286.9 43.8ZM291.7 40.0L293.3 42.2L291.7 44.3L290.1 42.2ZM295.3 45.5L296.9 47.6L295.3 49.8L293.7 47.6ZM298.4 50.0L300.0 52.1L298.4 54.3L296.8 52.1ZM301.4 47.3L303.0 49.4L301.4 51.6L299.8 49.4ZM305.2 47.7L306.8 49.9L305.2 52.0L303.6 49.9ZM309.3 52.9L310.9 55.1L309.3 57.2L307.7 55.1ZM312.7 54.5L314.3 56.7L312.7 58.8L311.1 56.7ZM316.1 56.3L317.7 58.5L316.1 60.6L314.5 58.5ZM318.8 52.2L320.4 54.4L318.8 56.5L317.2 54.4ZM322.4 56.8L324.0 58.9L322.4 61.1L320.8 58.9ZM325.6 54.0L327.2 56.2L325.6 58.3L324.0 56.2ZM329.2 59.7L330.8 61.9L329.2 64.0L327.6 61.9ZM333.1 63.1L334.7 65.2L333.1 67.4L331.5 65.2ZM336.0 64.2L337.6 66.4L336.0 68.5L334.4 66.4ZM339.2 63.1L340.8 65.2L339.2 67.4L337.6 65.2ZM342.3 63.2L343.9 65.4L342.3 67.5L340.7 65.4ZM345.7 64.8L347.3 67.0L345.7 69.1L344.1 67.0ZM349.0 65.9L350.6 68.1L349.0 70.2L347.4 68.1ZM351.8 66.4L353.4 68.6L351.8 70.7L350.2 68.6ZM354.7 62.6L356.3 64.7L354.7 66.9L353.1 64.7ZM357.6 63.7L359.2 65.8L357.6 68.0L356.0 65.8ZM360.8 61.9L362.4 64.0L360.8 66.2L359.2 64.0ZM363.8 70.5L365.4 72.6L363.8 74.8L362.2 72.6ZM367.1 69.3L368.7 71.5L367.1 73.6L365.5 71.5ZM370.5 70.5L372.1 72.6L370.5 74.8L368.9 72.6ZM373.9 70.9L375.5 73.1L373.9 75.2L372.3 73.1ZM378.0 68.7L379.6 70.8L378.0 73.0L376.4 70.8ZM380.7 70.0L382.3 72.2L380.7 74.3L379.1 72.2ZM384.1 69.3L385.7 71.5L384.1 73.6L382.5 71.5ZM386.4 70.9L388.0 73.1L386.4 75.2L384.8 73.1ZM388.6 71.6L390.2 73.8L388.6 75.9L387.0 73.8ZM392.0 72.3L393.6 74.4L392.0 76.6L390.4 74.4ZM395.4 73.2L397.0 75.3L395.4 77.5L393.8 75.3ZM397.7 70.0L399.3 72.2L397.7 74.3L396.1 72.2ZM400.0 71.6L401.6 73.8L400.0 75.9L398.4 73.8ZM400.8 72.6L402.4 74.8L400.8 76.9L399.2 74.8ZM403.2 73.4L404.8 75.6L403.2 77.7L401.6 75.6ZM405.6 71.8L407.2 74.0L405.6 76.1L404.0 74.0ZM407.1 75.0L408.7 77.1L407.1 79.3L405.5 77.1ZM408.7 77.4L410.3 79.5L408.7 81.7L407.1 79.5ZM411.1 80.5L412.7 82.7L411.1 84.8L409.5 82.7ZM411.9 85.3L413.5 87.5L411.9 89.6L410.3 87.5ZM413.5 90.9L415.1 93.0L413.5 95.2L411.9 93.0ZM414.3 94.0L415.9 96.2L414.3 98.3L412.7 96.2ZM415.9 97.2L417.5 99.4L415.9 101.5L414.3 99.4ZM412.7 101.2L414.3 103.3L412.7 105.5L411.1 103.3ZM416.7 99.6L418.3 101.7L416.7 103.9L415.1 101.7ZM418.3 98.8L419.9 101.0L418.3 103.1L416.7 101.0ZM419.8 101.2L421.4 103.3L419.8 105.5L418.2 103.3ZM421.4 100.4L423.0 102.5L421.4 104.7L419.8 102.5ZM423.0 102.0L424.6 104.1L423.0 106.3L421.4 104.1ZM424.6 102.8L426.2 104.9L424.6 107.1L423.0 104.9ZM426.2 103.6L427.8 105.7L426.2 107.9L424.6 105.7ZM427.8 104.0L429.4 106.2L427.8 108.3L426.2 106.2ZM429.4 104.4L431.0 106.5L429.4 108.7L427.8 106.5ZM431.0 104.7L432.6 106.8L431.0 109.0L429.4 106.8ZM432.5 105.2L434.1 107.3L432.5 109.5L430.9 107.3ZM434.1 105.6L435.7 107.8L434.1 109.9L432.5 107.8ZM435.7 105.6L437.3 107.8L435.7 109.9L434.1 107.8ZM434.9 104.0L436.5 106.2L434.9 108.3L433.3 106.2ZM431.7 103.6L433.3 105.7L431.7 107.9L430.1 105.7ZM428.6 102.5L430.2 104.6L428.6 106.8L427.0 104.6Z" fill="none" stroke="#2222d8" stroke-width="0.9" stroke-linejoin="round"/>
<path d="M476.4 34.1L478.0 36.3L476.4 38.4L474.8 36.3ZM478.0 39.3L479.6 41.5L478.0 43.6L476.4 41.5ZM482.0 39.3L483.6 41.5L482.0 43.6L480.4 41.5ZM483.9 40.0L485.5 42.2L483.9 44.3L482.3 42.2ZM485.4 37.8L487.0 39.9L485.4 42.1L483.8 39.9ZM490.0 37.1L491.6 39.2L490.0 41.4L488.4 39.2ZM490.6 39.3L492.2 41.5L490.6 43.6L489.0 41.5ZM496.8 41.6L498.4 43.8L496.8 45.9L495.2 43.8ZM499.7 45.0L501.3 47.1L499.7 49.3L498.1 47.1ZM505.8 35.9L507.4 38.1L505.8 40.2L504.2 38.1ZM505.8 39.3L507.4 41.5L505.8 43.6L504.2 41.5ZM511.5 37.1L513.1 39.2L511.5 41.4L509.9 39.2ZM513.7 40.5L515.3 42.6L513.7 44.8L512.1 42.6ZM518.2 45.0L519.8 47.1L518.2 49.3L516.6 47.1ZM521.6 43.9L523.2 46.0L521.6 48.2L520.0 46.0ZM528.4 46.1L530.0 48.3L528.4 50.4L526.8 48.3ZM530.7 43.9L532.3 46.0L530.7 48.2L529.1 46.0ZM525.0 54.0L526.6 56.2L525.0 58.3L523.4 56.2ZM532.3 56.8L533.9 58.9L532.3 61.1L530.7 58.9ZM536.3 56.8L537.9 58.9L536.3 61.1L534.7 58.9ZM539.7 58.6L541.3 60.7L539.7 62.9L538.1 60.7ZM543.1 59.7L544.7 61.9L543.1 64.0L541.5 61.9ZM545.9 59.7L547.5 61.9L545.9 64.0L544.3 61.9ZM548.8 60.4L550.4 62.5L548.8 64.7L547.2 62.5ZM552.6 66.5L554.2 68.6L552.6 70.8L551.0 68.6ZM557.3 64.8L558.9 67.0L557.3 69.1L555.7 67.0ZM559.5 65.9L561.1 68.1L559.5 70.2L557.9 68.1ZM564.5 67.1L566.1 69.2L564.5 71.4L562.9 69.2ZM565.9 67.8L567.5 69.9L565.9 72.1L564.3 69.9ZM569.7 71.6L571.3 73.8L569.7 75.9L568.1 73.8ZM571.3 64.8L572.9 67.0L571.3 69.1L569.7 67.0ZM576.5 70.5L578.1 72.6L576.5 74.8L574.9 72.6ZM577.6 68.2L579.2 70.4L577.6 72.5L576.0 70.4ZM582.1 70.5L583.7 72.6L582.1 74.8L580.5 72.6ZM585.5 69.3L587.1 71.5L585.5 73.6L583.9 71.5ZM587.8 68.2L589.4 70.4L587.8 72.5L586.2 70.4ZM591.7 71.6L593.3 73.8L591.7 75.9L590.1 73.8ZM596.9 72.7L598.5 74.9L596.9 77.0L595.3 74.9ZM600.2 71.6L601.8 73.8L600.2 75.9L598.6 73.8ZM603.6 73.9L605.2 76.0L603.6 78.2L602.0 76.0ZM605.9 75.5L607.5 77.6L605.9 79.8L604.3 77.6ZM609.3 73.2L610.9 75.3L609.3 77.5L607.7 75.3ZM611.6 72.7L613.2 74.9L611.6 77.0L610.0 74.9ZM614.3 71.6L615.9 73.8L614.3 75.9L612.7 73.8ZM617.2 72.3L618.8 74.4L617.2 76.6L615.6 74.4ZM619.5 73.2L621.1 75.3L619.5 77.5L617.9 75.3ZM621.7 73.9L623.3 76.0L621.7 78.2L620.1 76.0ZM625.3 70.2L626.9 72.4L625.3 74.5L623.7 72.4ZM626.9 75.0L628.5 77.1L626.9 79.3L625.3 77.1ZM627.7 80.5L629.3 82.7L627.7 84.8L626.1 82.7ZM626.9 84.5L628.5 86.7L626.9 88.8L625.3 86.7ZM626.1 90.1L627.7 92.2L626.1 94.4L624.5 92.2ZM627.7 91.7L629.3 93.8L627.7 96.0L626.1 93.8ZM629.3 94.0L630.9 96.2L629.3 98.3L627.7 96.2ZM630.9 95.6L632.5 97.8L630.9 99.9L629.3 97.8ZM628.5 101.2L630.1 103.3L628.5 105.5L626.9 103.3ZM630.1 103.6L631.7 105.7L630.1 107.9L628.5 105.7ZM631.7 105.2L633.3 107.3L631.7 109.5L630.1 107.3ZM634.8 106.7L636.4 108.9L634.8 111.0L633.2 108.9Z" fill="none" stroke="#333333" stroke-width="0.9" stroke-linejoin="round"/>
<path d="M482.0 28.0L483.6 30.2L482.0 32.3L480.4 30.2ZM483.2 25.8L484.8 27.9L483.2 30.1L481.6 27.9ZM484.8 22.8L486.4 25.0L484.8 27.1L483.2 25.0ZM486.1 24.2L487.7 26.3L486.1 28.5L484.5 26.3ZM488.4 28.0L490.0 30.2L488.4 32.3L486.8 30.2ZM491.1 22.8L492.7 25.0L491.1 27.1L489.5 25.0ZM494.5 25.1L496.1 27.2L494.5 29.4L492.9 27.2ZM496.8 25.1L498.4 27.2L496.8 29.4L495.2 27.2ZM501.3 22.8L502.9 25.0L501.3 27.1L499.7 25.0ZM504.7 26.4L506.3 28.6L504.7 30.7L503.1 28.6ZM508.1 28.0L509.7 30.2L508.1 32.3L506.5 30.2ZM511.5 34.1L513.1 36.3L511.5 38.4L509.9 36.3ZM513.7 35.5L515.3 37.6L513.7 39.8L512.1 37.6ZM517.1 37.1L518.7 39.2L517.1 41.4L515.5 39.2ZM520.5 38.7L522.1 40.8L520.5 43.0L518.9 40.8ZM525.5 41.6L527.1 43.8L525.5 45.9L523.9 43.8ZM528.4 42.3L530.0 44.4L528.4 46.6L526.8 44.4ZM532.3 44.5L533.9 46.7L532.3 48.8L530.7 46.7ZM535.2 47.3L536.8 49.4L535.2 51.6L533.6 49.4ZM539.7 52.2L541.3 54.4L539.7 56.5L538.1 54.4ZM542.0 53.6L543.6 55.7L542.0 57.9L540.4 55.7ZM546.5 57.4L548.1 59.6L546.5 61.7L544.9 59.6ZM551.1 58.1L552.7 60.3L551.1 62.4L549.5 60.3ZM554.4 56.8L556.0 58.9L554.4 61.1L552.8 58.9ZM556.1 59.2L557.7 61.3L556.1 63.5L554.5 61.3ZM559.5 58.0L561.1 60.2L559.5 62.3L557.9 60.2ZM561.8 60.3L563.4 62.4L561.8 64.6L560.2 62.4ZM567.4 61.9L569.0 64.0L567.4 66.2L565.8 64.0ZM573.1 63.7L574.7 65.8L573.1 68.0L571.5 65.8ZM578.8 60.3L580.4 62.4L578.8 64.6L577.2 62.4ZM584.4 63.7L586.0 65.8L584.4 68.0L582.8 65.8ZM588.9 64.8L590.5 67.0L588.9 69.1L587.3 67.0ZM593.5 65.5L595.1 67.6L593.5 69.8L591.9 67.6ZM598.0 67.8L599.6 69.9L598.0 72.1L596.4 69.9ZM602.5 64.8L604.1 67.0L602.5 69.1L600.9 67.0ZM604.8 67.1L606.4 69.2L604.8 71.4L603.2 69.2ZM607.0 68.7L608.6 70.8L607.0 73.0L605.4 70.8ZM609.3 70.5L610.9 72.6L609.3 74.8L607.7 72.6ZM611.6 70.0L613.2 72.2L611.6 74.3L610.0 72.2ZM613.8 69.3L615.4 71.5L613.8 73.6L612.2 71.5ZM616.1 68.7L617.7 70.8L616.1 73.0L614.5 70.8ZM618.3 69.3L619.9 71.5L618.3 73.6L616.7 71.5ZM620.6 70.5L622.2 72.6L620.6 74.8L619.0 72.6ZM622.9 71.6L624.5 73.8L622.9 75.9L621.3 73.8ZM622.9 74.2L624.5 76.3L622.9 78.5L621.3 76.3ZM624.5 76.6L626.1 78.7L624.5 80.9L622.9 78.7ZM626.1 79.0L627.7 81.1L626.1 83.3L624.5 81.1ZM623.7 82.9L625.3 85.1L623.7 87.2L622.1 85.1ZM626.9 86.1L628.5 88.3L626.9 90.4L625.3 88.3ZM627.7 88.5L629.3 90.6L627.7 92.8L626.1 90.6ZM628.5 91.7L630.1 93.8L628.5 96.0L626.9 93.8ZM629.3 95.6L630.9 97.8L629.3 99.9L627.7 97.8ZM630.9 97.2L632.5 99.4L630.9 101.5L629.3 99.4ZM632.5 98.0L634.1 100.2L632.5 102.3L630.9 100.2ZM633.3 93.2L634.9 95.4L633.3 97.5L631.7 95.4ZM630.1 99.6L631.7 101.7L630.1 103.9L628.5 101.7ZM631.7 101.2L633.3 103.3L631.7 105.5L630.1 103.3ZM633.3 102.0L634.9 104.1L633.3 106.3L631.7 104.1ZM634.8 102.8L636.4 104.9L634.8 107.1L633.2 104.9ZM636.4 103.6L638.0 105.7L636.4 107.9L634.8 105.7ZM638.0 104.4L639.6 106.5L638.0 108.7L636.4 106.5ZM639.6 105.2L641.2 107.3L639.6 109.5L638.0 107.3ZM641.2 105.9L642.8 108.1L641.2 110.2L639.6 108.1ZM642.8 105.6L644.4 107.8L642.8 109.9L641.2 107.8ZM634.0 105.2L635.6 107.3L634.0 109.5L632.4 107.3ZM636.4 105.9L638.0 108.1L636.4 110.2L634.8 108.1ZM630.9 103.6L632.5 105.7L630.9 107.9L629.3 105.7ZM632.5 104.4L634.1 106.5L632.5 108.7L630.9 106.5Z" fill="none" stroke="#22dd22" stroke-width="0.9" stroke-linejoin="round"/>
<path d="M45.7 152.8L47.5 156.5L43.9 156.5ZM47.9 154.2L49.7 157.9L46.1 157.9ZM50.9 151.9L52.7 155.6L49.1 155.6ZM53.6 153.5L55.4 157.2L51.8 157.2ZM57.0 154.6L58.8 158.3L55.2 158.3ZM60.4 149.6L62.2 153.3L58.6 153.3ZM64.9 152.8L66.7 156.5L63.1 156.5ZM66.7 154.2L68.5 157.9L64.9 157.9ZM70.5 155.7L72.3 159.4L68.7 159.4ZM73.5 157.3L75.3 161.0L71.7 161.0ZM76.2 159.6L78.0 163.3L74.4 163.3ZM78.5 160.3L80.3 164.0L76.7 164.0ZM81.2 164.1L83.0 167.8L79.4 167.8ZM84.1 165.5L85.9 169.2L82.3 169.2ZM87.5 165.9L89.3 169.6L85.7 169.6ZM88.0 170.9L89.8 174.6L86.2 174.6ZM91.6 172.3L93.4 176.0L89.8 176.0ZM95.4 175.4L97.2 179.1L93.6 179.1ZM100.0 177.2L101.8 180.9L98.2 180.9ZM102.2 178.4L104.0 182.1L100.4 182.1ZM103.8 184.0L105.6 187.7L102.0 187.7ZM107.9 187.4L109.7 191.1L106.1 191.1ZM111.3 189.7L113.1 193.4L109.5 193.4ZM115.8 186.7L117.6 190.4L114.0 190.4ZM118.1 189.7L119.9 193.4L116.3 193.4ZM122.6 185.8L124.4 189.5L120.8 189.5ZM123.7 188.5L125.5 192.2L121.9 192.2ZM128.4 185.7L130.2 189.4L126.6 189.4ZM128.4 190.3L130.2 194.0L126.6 194.0ZM135.2 188.0L137.0 191.7L133.4 191.7ZM135.2 191.4L137.0 195.1L133.4 195.1ZM140.8 186.9L142.6 190.6L139.0 190.6ZM141.3 188.7L143.1 192.4L139.5 192.4ZM146.5 188.7L148.3 192.4L144.7 192.4ZM146.5 191.4L148.3 195.1L144.7 195.1ZM152.1 184.6L153.9 188.3L150.3 188.3ZM152.6 188.0L154.4 191.7L150.8 191.7ZM156.7 192.5L158.5 196.2L154.9 196.2ZM157.8 195.9L159.6 199.6L156.0 199.6ZM162.3 194.1L164.1 197.8L160.5 197.8ZM161.7 202.7L163.5 206.4L159.9 206.4ZM166.2 198.6L168.0 202.3L164.4 202.3ZM166.9 201.6L168.7 205.3L165.1 205.3ZM170.2 201.6L172.0 205.3L168.4 205.3ZM172.5 203.2L174.3 206.9L170.7 206.9ZM175.2 205.0L177.0 208.7L173.4 208.7ZM177.4 207.6L179.2 211.3L175.6 211.3ZM179.8 208.4L181.6 212.1L178.0 212.1ZM182.1 209.2L183.9 212.9L180.3 212.9ZM184.5 208.4L186.3 212.1L182.7 212.1ZM186.1 210.8L187.9 214.5L184.3 214.5ZM186.9 213.1L188.7 216.8L185.1 216.8ZM187.7 215.5L189.5 219.2L185.9 219.2ZM188.5 217.9L190.3 221.6L186.7 221.6ZM189.3 220.3L191.1 224.0L187.5 224.0ZM190.1 222.7L191.9 226.4L188.3 226.4ZM190.9 225.0L192.7 228.7L189.1 228.7ZM191.7 227.4L193.5 231.1L189.9 231.1ZM192.5 229.0L194.3 232.7L190.7 232.7ZM193.3 230.6L195.1 234.3L191.5 234.3Z" fill="none" stroke="#333333" stroke-width="0.95" stroke-linejoin="round"/>
<path d="M43.4 157.3L45.2 161.0L41.6 161.0ZM43.4 162.5L45.2 166.2L41.6 166.2ZM47.9 158.7L49.7 162.4L46.1 162.4ZM48.6 160.9L50.4 164.6L46.8 164.6ZM54.7 155.7L56.5 159.4L52.9 159.4ZM54.7 161.9L56.5 165.6L52.9 165.6ZM62.2 155.7L64.0 159.4L60.4 159.4ZM62.2 161.9L64.0 165.6L60.4 165.6ZM69.0 158.7L70.8 162.4L67.2 162.4ZM70.5 163.2L72.3 166.9L68.7 166.9ZM76.2 163.2L78.0 166.9L74.4 166.9ZM77.3 164.1L79.1 167.8L75.5 167.8ZM83.0 167.1L84.8 170.8L81.2 170.8ZM86.4 168.6L88.2 172.3L84.6 172.3ZM90.9 175.0L92.7 178.7L89.1 178.7ZM91.6 177.2L93.4 180.9L89.8 180.9ZM96.6 180.0L98.4 183.7L94.8 183.7ZM100.0 181.8L101.8 185.5L98.2 185.5ZM104.5 185.2L106.3 188.9L102.7 188.9ZM109.0 189.7L110.8 193.4L107.2 193.4ZM111.9 191.3L113.7 195.0L110.1 195.0ZM115.8 191.9L117.6 195.6L114.0 195.6ZM118.7 193.5L120.5 197.2L116.9 197.2ZM119.2 190.8L121.0 194.5L117.4 194.5ZM125.5 195.9L127.3 199.6L123.7 199.6ZM130.7 200.0L132.5 203.7L128.9 203.7ZM135.9 200.4L137.7 204.1L134.1 204.1ZM137.4 202.3L139.2 206.0L135.6 206.0ZM142.6 202.7L144.4 206.4L140.8 206.4ZM144.2 200.4L146.0 204.1L142.4 204.1ZM147.6 198.2L149.4 201.9L145.8 201.9ZM149.4 202.7L151.2 206.4L147.6 206.4ZM153.3 207.2L155.1 210.9L151.5 210.9ZM158.5 205.0L160.3 208.7L156.7 208.7ZM158.9 208.4L160.7 212.1L157.1 212.1ZM162.3 210.0L164.1 213.7L160.5 213.7ZM163.9 211.8L165.7 215.5L162.1 215.5ZM166.9 210.6L168.7 214.3L165.1 214.3ZM168.4 213.6L170.2 217.3L166.6 217.3ZM171.4 214.5L173.2 218.2L169.6 218.2ZM173.6 215.8L175.4 219.5L171.8 219.5ZM177.4 216.3L179.2 220.0L175.6 220.0ZM179.0 217.1L180.8 220.8L177.2 220.8ZM180.6 215.5L182.4 219.2L178.8 219.2ZM182.1 213.9L183.9 217.6L180.3 217.6ZM181.3 218.7L183.1 222.4L179.5 222.4ZM183.7 219.5L185.5 223.2L181.9 223.2ZM185.3 220.3L187.1 224.0L183.5 224.0ZM186.9 221.9L188.7 225.6L185.1 225.6ZM188.5 225.0L190.3 228.7L186.7 228.7ZM190.1 227.4L191.9 231.1L188.3 231.1ZM190.9 229.8L192.7 233.5L189.1 233.5ZM192.5 231.4L194.3 235.1L190.7 235.1ZM194.0 231.7L195.8 235.4L192.2 235.4ZM195.6 231.4L197.4 235.1L193.8 235.1ZM197.2 231.4L199.0 235.1L195.4 235.1ZM198.8 231.7L200.6 235.4L197.0 235.4ZM200.4 231.7L202.2 235.4L198.6 235.4ZM202.0 231.4L203.8 235.1L200.2 235.1ZM203.6 228.2L205.4 231.9L201.8 231.9ZM204.4 231.4L206.2 235.1L202.6 235.1ZM206.0 232.2L207.8 235.9L204.2 235.9ZM201.2 230.6L203.0 234.3L199.4 234.3ZM198.0 230.6L199.8 234.3L196.2 234.3ZM194.8 230.6L196.6 234.3L193.0 234.3Z" fill="none" stroke="#e8121a" stroke-width="0.95" stroke-linejoin="round"/>
<path d="M266.3 157.8L268.1 161.5L264.5 161.5ZM265.2 160.7L267.0 164.4L263.4 164.4ZM262.9 163.0L264.7 166.7L261.1 166.7ZM272.0 160.7L273.8 164.4L270.2 164.4ZM272.6 163.7L274.4 167.4L270.8 167.4ZM278.8 160.7L280.6 164.4L277.0 164.4ZM279.9 166.4L281.7 170.1L278.1 170.1ZM284.0 165.9L285.8 169.6L282.2 169.6ZM285.5 168.2L287.3 171.9L283.7 171.9ZM291.2 160.1L293.0 163.8L289.4 163.8ZM291.2 166.4L293.0 170.1L289.4 170.1ZM295.7 170.5L297.5 174.2L293.9 174.2ZM298.0 173.2L299.8 176.9L296.2 176.9ZM298.0 182.2L299.8 185.9L296.2 185.9ZM302.5 182.2L304.3 185.9L300.7 185.9ZM303.6 185.6L305.4 189.3L301.8 189.3ZM310.4 183.4L312.2 187.1L308.6 187.1ZM311.6 185.6L313.4 189.3L309.8 189.3ZM317.2 186.3L319.0 190.0L315.4 190.0ZM318.3 188.6L320.1 192.3L316.5 192.3ZM322.9 190.8L324.7 194.5L321.1 194.5ZM324.0 193.1L325.8 196.8L322.2 196.8ZM328.5 195.4L330.3 199.1L326.7 199.1ZM331.9 197.6L333.7 201.3L330.1 201.3ZM333.1 195.8L334.9 199.5L331.3 199.5ZM336.9 196.3L338.7 200.0L335.1 200.0ZM337.6 198.1L339.4 201.8L335.8 201.8ZM342.7 199.8L344.5 203.5L340.9 203.5ZM345.0 198.7L346.8 202.4L343.2 202.4ZM349.0 198.2L350.8 201.9L347.2 201.9ZM350.9 199.8L352.7 203.5L349.1 203.5ZM354.7 195.9L356.5 199.6L352.9 199.6ZM355.4 199.8L357.2 203.5L353.6 203.5ZM360.4 190.7L362.2 194.4L358.6 194.4ZM366.0 200.5L367.8 204.2L364.2 204.2ZM367.1 202.7L368.9 206.4L365.3 206.4ZM371.7 203.6L373.5 207.3L369.9 207.3ZM376.2 205.0L378.0 208.7L374.4 208.7ZM379.6 210.0L381.4 213.7L377.8 213.7ZM381.9 211.1L383.7 214.8L380.1 214.8ZM384.1 212.2L385.9 215.9L382.3 215.9ZM386.4 210.0L388.2 213.7L384.6 213.7ZM388.6 211.1L390.4 214.8L386.8 214.8ZM390.9 213.4L392.7 217.1L389.1 217.1ZM393.2 212.2L395.0 215.9L391.4 215.9ZM395.4 214.5L397.2 218.2L393.6 218.2ZM397.7 215.0L399.5 218.7L395.9 218.7ZM400.0 214.0L401.8 217.7L398.2 217.7ZM400.8 214.2L402.6 217.9L399.0 217.9ZM403.2 215.8L405.0 219.5L401.4 219.5ZM405.6 218.1L407.4 221.8L403.8 221.8ZM407.1 221.3L408.9 225.0L405.3 225.0ZM408.7 224.5L410.5 228.2L406.9 228.2ZM410.3 227.7L412.1 231.4L408.5 231.4ZM411.9 230.8L413.7 234.5L410.1 234.5ZM412.7 234.0L414.5 237.7L410.9 237.7ZM414.3 235.6L416.1 239.3L412.5 239.3Z" fill="none" stroke="#333333" stroke-width="0.95" stroke-linejoin="round"/>
<path d="M268.1 154.0L269.9 157.7L266.3 157.7ZM261.8 164.1L263.6 167.8L260.0 167.8ZM262.9 167.5L264.7 171.2L261.1 171.2ZM264.0 169.8L265.8 173.5L262.2 173.5ZM260.7 167.5L262.5 171.2L258.9 171.2ZM269.7 167.5L271.5 171.2L267.9 171.2ZM273.1 162.3L274.9 166.0L271.3 166.0ZM275.4 163.0L277.2 166.7L273.6 166.7ZM277.6 161.4L279.4 165.1L275.8 165.1ZM279.9 164.6L281.7 168.3L278.1 168.3ZM281.7 164.6L283.5 168.3L279.9 168.3ZM284.0 171.4L285.8 175.1L282.2 175.1ZM286.7 167.5L288.5 171.2L284.9 171.2ZM288.9 169.1L290.7 172.8L287.1 172.8ZM291.7 169.1L293.5 172.8L289.9 172.8ZM294.6 170.9L296.4 174.6L292.8 174.6ZM298.0 169.1L299.8 172.8L296.2 172.8ZM304.8 164.6L306.6 168.3L303.0 168.3ZM296.9 172.1L298.7 175.8L295.1 175.8ZM309.3 186.8L311.1 190.5L307.5 190.5ZM311.6 187.9L313.4 191.6L309.8 191.6ZM316.1 188.6L317.9 192.3L314.3 192.3ZM319.5 189.5L321.3 193.2L317.7 193.2ZM322.9 192.4L324.7 196.1L321.1 196.1ZM326.3 195.8L328.1 199.5L324.5 199.5ZM328.5 197.6L330.3 201.3L326.7 201.3ZM330.8 199.2L332.6 202.9L329.0 202.9ZM333.1 200.8L334.9 204.5L331.3 204.5ZM335.3 202.1L337.1 205.8L333.5 205.8ZM337.6 203.1L339.4 206.8L335.8 206.8ZM339.8 203.7L341.6 207.4L338.0 207.4ZM341.1 207.3L342.9 211.0L339.3 211.0ZM345.0 204.3L346.8 208.0L343.2 208.0ZM346.8 203.6L348.6 207.3L345.0 207.3ZM350.2 205.0L352.0 208.7L348.4 208.7ZM352.4 205.9L354.2 209.6L350.6 209.6ZM355.4 205.0L357.2 208.7L353.6 208.7ZM357.0 206.6L358.8 210.3L355.2 210.3ZM360.4 200.9L362.2 204.6L358.6 204.6ZM362.6 203.6L364.4 207.3L360.8 207.3ZM363.8 205.0L365.6 208.7L362.0 208.7ZM366.0 206.6L367.8 210.3L364.2 210.3ZM368.3 208.8L370.1 212.5L366.5 212.5ZM370.5 207.7L372.3 211.4L368.7 211.4ZM372.8 205.4L374.6 209.1L371.0 209.1ZM375.1 206.6L376.9 210.3L373.3 210.3ZM377.3 210.0L379.1 213.7L375.5 213.7ZM380.3 212.2L382.1 215.9L378.5 215.9ZM383.0 213.4L384.8 217.1L381.2 217.1ZM385.2 214.0L387.0 217.7L383.4 217.7ZM387.5 215.6L389.3 219.3L385.7 219.3ZM389.8 217.2L391.6 220.9L388.0 220.9ZM392.0 217.9L393.8 221.6L390.2 221.6ZM394.3 217.2L396.1 220.9L392.5 220.9ZM396.6 219.0L398.4 222.7L394.8 222.7ZM398.8 220.2L400.6 223.9L397.0 223.9ZM400.0 222.4L401.8 226.1L398.2 226.1ZM400.8 218.1L402.6 221.8L399.0 221.8ZM401.6 220.5L403.4 224.2L399.8 224.2ZM403.2 222.9L405.0 226.6L401.4 226.6ZM404.8 225.3L406.6 229.0L403.0 229.0ZM406.3 227.7L408.1 231.4L404.5 231.4ZM407.1 230.0L408.9 233.7L405.3 233.7ZM407.9 232.4L409.7 236.1L406.1 236.1ZM409.5 234.0L411.3 237.7L407.7 237.7ZM411.1 235.6L412.9 239.3L409.3 239.3ZM412.7 236.4L414.5 240.1L410.9 240.1ZM414.3 236.4L416.1 240.1L412.5 240.1ZM415.9 236.4L417.7 240.1L414.1 240.1ZM417.5 236.4L419.3 240.1L415.7 240.1ZM419.0 236.4L420.8 240.1L417.2 240.1ZM420.6 236.4L422.4 240.1L418.8 240.1ZM422.2 236.4L424.0 240.1L420.4 240.1ZM423.8 236.4L425.6 240.1L422.0 240.1ZM425.4 236.4L427.2 240.1L423.6 240.1ZM427.0 236.4L428.8 240.1L425.2 240.1ZM428.6 236.4L430.4 240.1L426.8 240.1ZM430.2 236.4L432.0 240.1L428.4 240.1ZM431.7 236.4L433.5 240.1L429.9 240.1ZM433.3 236.4L435.1 240.1L431.5 240.1ZM434.9 236.4L436.7 240.1L433.1 240.1ZM411.9 237.2L413.7 240.9L410.1 240.9ZM415.1 237.2L416.9 240.9L413.3 240.9ZM418.3 237.2L420.1 240.9L416.5 240.9ZM421.4 237.2L423.2 240.9L419.6 240.9ZM424.6 237.2L426.4 240.9L422.8 240.9ZM427.8 237.2L429.6 240.9L426.0 240.9ZM431.0 237.2L432.8 240.9L429.2 240.9ZM434.1 237.2L435.9 240.9L432.3 240.9Z" fill="none" stroke="#2222d8" stroke-width="0.95" stroke-linejoin="round"/>
<path d="M476.4 151.0L478.2 154.7L474.6 154.7ZM477.5 155.1L479.3 158.8L475.7 158.8ZM482.5 158.5L484.3 162.2L480.7 162.2ZM483.9 156.2L485.7 159.9L482.1 159.9ZM489.3 157.3L491.1 161.0L487.5 161.0ZM491.1 157.8L492.9 161.5L489.3 161.5ZM495.6 159.6L497.4 163.3L493.8 163.3ZM497.9 157.8L499.7 161.5L496.1 161.5ZM499.7 157.3L501.5 161.0L497.9 161.0ZM504.7 160.7L506.5 164.4L502.9 164.4ZM506.5 159.6L508.3 163.3L504.7 163.3ZM511.9 160.7L513.7 164.4L510.1 164.4ZM513.3 161.9L515.1 165.6L511.5 165.6ZM518.2 168.2L520.0 171.9L516.4 171.9ZM521.0 169.8L522.8 173.5L519.2 173.5ZM525.5 180.0L527.3 183.7L523.7 183.7ZM528.4 172.1L530.2 175.8L526.6 175.8ZM531.4 179.5L533.2 183.2L529.6 183.2ZM533.0 178.2L534.8 181.9L531.2 181.9ZM535.2 175.9L537.0 179.6L533.4 179.6ZM539.7 184.5L541.5 188.2L537.9 188.2ZM542.0 180.0L543.8 183.7L540.2 183.7ZM545.9 188.6L547.7 192.3L544.1 192.3ZM549.9 182.2L551.7 185.9L548.1 185.9ZM552.6 194.7L554.4 198.4L550.8 198.4ZM556.8 191.4L558.6 195.1L555.0 195.1ZM559.5 197.5L561.3 201.2L557.7 201.2ZM564.5 198.2L566.3 201.9L562.7 201.9ZM565.2 199.8L567.0 203.5L563.4 203.5ZM569.7 195.3L571.5 199.0L567.9 199.0ZM571.3 195.3L573.1 199.0L569.5 199.0ZM577.2 195.3L579.0 199.0L575.4 199.0ZM581.0 196.4L582.8 200.1L579.2 200.1ZM582.1 195.9L583.9 199.6L580.3 199.6ZM586.7 199.8L588.5 203.5L584.9 203.5ZM588.5 200.9L590.3 204.6L586.7 204.6ZM592.3 199.8L594.1 203.5L590.5 203.5ZM593.9 202.7L595.7 206.4L592.1 206.4ZM591.2 211.1L593.0 214.8L589.4 214.8ZM594.6 207.7L596.4 211.4L592.8 211.4ZM597.5 207.7L599.3 211.4L595.7 211.4ZM599.8 206.6L601.6 210.3L598.0 210.3ZM601.4 208.2L603.2 211.9L599.6 211.9ZM603.6 209.5L605.4 213.2L601.8 213.2ZM605.2 211.1L607.0 214.8L603.4 214.8ZM605.8 208.6L607.6 212.3L604.0 212.3ZM608.2 211.0L610.0 214.7L606.4 214.7ZM610.6 213.4L612.4 217.1L608.8 217.1ZM612.9 214.2L614.7 217.9L611.1 217.9ZM615.3 215.8L617.1 219.5L613.5 219.5ZM617.7 216.6L619.5 220.3L615.9 220.3ZM620.1 218.1L621.9 221.8L618.3 221.8ZM622.5 218.9L624.3 222.6L620.7 222.6ZM624.0 220.5L625.8 224.2L622.2 224.2ZM625.6 223.7L627.4 227.4L623.8 227.4ZM627.2 226.9L629.0 230.6L625.4 230.6ZM628.0 230.0L629.8 233.7L626.2 233.7ZM628.8 233.2L630.6 236.9L627.0 236.9ZM629.6 236.4L631.4 240.1L627.8 240.1Z" fill="none" stroke="#333333" stroke-width="0.95" stroke-linejoin="round"/>
<path d="M483.2 165.3L485.0 169.0L481.4 169.0ZM484.8 163.0L486.6 166.7L483.0 166.7ZM488.8 164.6L490.6 168.3L487.0 168.3ZM490.6 165.9L492.4 169.6L488.8 169.6ZM494.5 163.0L496.3 166.7L492.7 166.7ZM497.4 164.6L499.2 168.3L495.6 168.3ZM499.7 164.1L501.5 167.8L497.9 167.8ZM502.0 162.3L503.8 166.0L500.2 166.0ZM504.2 165.3L506.0 169.0L502.4 169.0ZM506.9 165.3L508.7 169.0L505.1 169.0ZM511.5 157.8L513.3 161.5L509.7 161.5ZM514.2 167.5L516.0 171.2L512.4 171.2ZM518.2 175.0L520.0 178.7L516.4 178.7ZM521.6 174.3L523.4 178.0L519.8 178.0ZM527.8 180.0L529.6 183.7L526.0 183.7ZM530.7 181.1L532.5 184.8L528.9 184.8ZM533.6 186.3L535.4 190.0L531.8 190.0ZM535.9 185.6L537.7 189.3L534.1 189.3ZM539.1 191.3L540.9 195.0L537.3 195.0ZM540.9 192.4L542.7 196.1L539.1 196.1ZM545.9 200.8L547.7 204.5L544.1 204.5ZM548.8 198.1L550.6 201.8L547.0 201.8ZM552.2 199.9L554.0 203.6L550.4 203.6ZM554.4 202.6L556.2 206.3L552.6 206.3ZM555.5 202.1L557.3 205.8L553.7 205.8ZM559.1 196.4L560.9 200.1L557.3 200.1ZM560.7 205.0L562.5 208.7L558.9 208.7ZM566.3 200.9L568.1 204.6L564.5 204.6ZM567.4 205.4L569.2 209.1L565.6 209.1ZM572.6 199.8L574.4 203.5L570.8 203.5ZM573.6 206.6L575.4 210.3L571.8 210.3ZM577.6 203.2L579.4 206.9L575.8 206.9ZM579.4 202.7L581.2 206.4L577.6 206.4ZM584.0 200.9L585.8 204.6L582.2 204.6ZM584.0 207.7L585.8 211.4L582.2 211.4ZM588.5 204.3L590.3 208.0L586.7 208.0ZM590.1 207.3L591.9 211.0L588.3 211.0ZM593.5 205.4L595.3 209.1L591.7 209.1ZM593.5 210.0L595.3 213.7L591.7 213.7ZM596.9 212.2L598.7 215.9L595.1 215.9ZM599.1 213.4L600.9 217.1L597.3 217.1ZM602.5 214.5L604.3 218.2L600.7 218.2ZM603.6 216.8L605.4 220.5L601.8 220.5ZM605.8 213.4L607.6 217.1L604.0 217.1ZM607.4 215.8L609.2 219.5L605.6 219.5ZM609.0 218.1L610.8 221.8L607.2 221.8ZM611.3 217.3L613.1 221.0L609.5 221.0ZM612.9 218.9L614.7 222.6L611.1 222.6ZM614.5 220.5L616.3 224.2L612.7 224.2ZM616.1 218.9L617.9 222.6L614.3 222.6ZM617.7 221.3L619.5 225.0L615.9 225.0ZM619.3 223.7L621.1 227.4L617.5 227.4ZM620.9 225.3L622.7 229.0L619.1 229.0ZM622.5 226.9L624.3 230.6L620.7 230.6ZM623.3 229.3L625.1 233.0L621.5 233.0ZM624.0 231.6L625.8 235.3L622.2 235.3ZM624.8 234.0L626.6 237.7L623.0 237.7ZM625.6 235.6L627.4 239.3L623.8 239.3ZM627.2 237.2L629.0 240.9L625.4 240.9ZM628.8 237.7L630.6 241.4L627.0 241.4ZM630.4 238.0L632.2 241.7L628.6 241.7ZM632.0 238.0L633.8 241.7L630.2 241.7ZM633.6 238.0L635.4 241.7L631.8 241.7ZM635.2 238.0L637.0 241.7L633.4 241.7ZM636.7 238.0L638.5 241.7L634.9 241.7ZM638.3 238.0L640.1 241.7L636.5 241.7ZM639.9 237.7L641.7 241.4L638.1 241.4ZM641.5 238.0L643.3 241.7L639.7 241.7ZM620.1 228.5L621.9 232.2L618.3 232.2ZM621.7 230.8L623.5 234.5L619.9 234.5ZM618.5 226.1L620.3 229.8L616.7 229.8Z" fill="none" stroke="#22dd22" stroke-width="0.95" stroke-linejoin="round"/>
<rect x="167.8" y="20.2" width="49.79999999999998" height="16.000000000000004" fill="#fff" stroke="#8a8a8a" stroke-width="0.8"/>
<path d="M175.8 22.5L177.4 24.5L175.8 26.5L174.2 24.5Z" fill="none" stroke="#000" stroke-width="0.75"/>
<text x="182.8" y="26.7" class="lg">1.1s (No N2)</text>
<path d="M175.8 29.5L177.4 31.5L175.8 33.5L174.2 31.5Z" fill="none" stroke="#ff0000" stroke-width="0.75"/>
<text x="182.8" y="33.7" class="lg">1.7s (with N2)</text>
<rect x="411.4" y="21.6" width="26.600000000000023" height="15.399999999999999" fill="#fff" stroke="#8a8a8a" stroke-width="0.8"/>
<path d="M419.4 23.9L421.0 25.9L419.4 27.9L417.8 25.9Z" fill="none" stroke="#000" stroke-width="0.75"/>
<text x="426.4" y="28.1" class="lg">1.1s</text>
<path d="M419.4 30.9L421.0 32.9L419.4 34.9L417.8 32.9Z" fill="none" stroke="#0000ff" stroke-width="0.75"/>
<text x="426.4" y="35.1" class="lg">1.7s</text>
<rect x="626.4" y="22.6" width="26.5" height="15.899999999999999" fill="#fff" stroke="#8a8a8a" stroke-width="0.8"/>
<path d="M634.4 24.9L636.0 26.9L634.4 28.9L632.8 26.9Z" fill="none" stroke="#000" stroke-width="0.75"/>
<text x="641.4" y="29.1" class="lg">1.1s</text>
<path d="M634.4 31.9L636.0 33.9L634.4 35.9L632.8 33.9Z" fill="none" stroke="#22dd22" stroke-width="0.75"/>
<text x="641.4" y="36.1" class="lg">1.7s</text>
<rect x="167.6" y="148.2" width="50.0" height="16.100000000000023" fill="#fff" stroke="#8a8a8a" stroke-width="0.8"/>
<path d="M175.6 150.3L177.6 153.9L173.6 153.9Z" fill="none" stroke="#000" stroke-width="0.75"/>
<text x="182.6" y="154.7" class="lg">1.1s (No N2)</text>
<path d="M175.6 157.3L177.6 160.9L173.6 160.9Z" fill="none" stroke="#ff0000" stroke-width="0.75"/>
<text x="182.6" y="161.7" class="lg">1.7s (with N2)</text>
<rect x="411.1" y="152" width="26.899999999999977" height="15.900000000000006" fill="#fff" stroke="#8a8a8a" stroke-width="0.8"/>
<path d="M419.1 154.1L421.1 157.7L417.1 157.7Z" fill="none" stroke="#000" stroke-width="0.75"/>
<text x="426.1" y="158.5" class="lg">1.1s</text>
<path d="M419.1 161.1L421.1 164.7L417.1 164.7Z" fill="none" stroke="#0000ff" stroke-width="0.75"/>
<text x="426.1" y="165.5" class="lg">1.7s</text>
<rect x="626.4" y="153.4" width="26.5" height="16.0" fill="#fff" stroke="#8a8a8a" stroke-width="0.8"/>
<path d="M634.4 155.5L636.4 159.1L632.4 159.1Z" fill="none" stroke="#000" stroke-width="0.75"/>
<text x="641.4" y="159.9" class="lg">1.1s</text>
<path d="M634.4 162.5L636.4 166.1L632.4 166.1Z" fill="none" stroke="#22dd22" stroke-width="0.75"/>
<text x="641.4" y="166.9" class="lg">1.7s</text>
<text x="84" y="32.6" class="an" fill="#ee1c24" stroke="#ee1c24">With N<tspan class="s2" dy="1.6">2</tspan></text>
<text x="52.7" y="63.3" class="an" fill="#000" stroke="#000">No N<tspan class="s2" dy="1.6">2</tspan></text>
<text x="295" y="36.1" class="an" fill="#4444cc" stroke="#4444cc">With N<tspan class="s2" dy="1.6">2</tspan></text>
<text x="270.2" y="80.1" class="an" fill="#000" stroke="#000">No N<tspan class="s2" dy="1.6">2</tspan></text>
<text x="519.9" y="31.1" class="an" fill="#2db84a" stroke="#2db84a">With N<tspan class="s2" dy="1.6">2</tspan></text>
<text x="484.9" y="60.4" class="an" fill="#000" stroke="#000">No N<tspan class="s2" dy="1.6">2</tspan></text>
<text x="55.8" y="191.9" class="an" fill="#ee1c24" stroke="#ee1c24">With N<tspan class="s2" dy="1.6">2</tspan></text>
<text x="93.9" y="164.2" class="an" fill="#000" stroke="#000">No N<tspan class="s2" dy="1.6">2</tspan></text>
<text x="283.2" y="203.5" class="an" fill="#4444cc" stroke="#4444cc">With N<tspan class="s2" dy="1.6">2</tspan></text>
<text x="331.9" y="186.9" class="an" fill="#000" stroke="#000">No N<tspan class="s2" dy="1.6">2</tspan></text>
<text x="499.2" y="201.1" class="an" fill="#2db84a" stroke="#2db84a">With N<tspan class="s2" dy="1.6">2</tspan></text>
<text x="541.1" y="174.2" class="an" fill="#000" stroke="#000">No N<tspan class="s2" dy="1.6">2</tspan></text>
<text transform="translate(124.0,11.7) scale(0.83,1)" class="ti" fill="#ff0000" stroke="#ff0000">SN</text>
<text transform="translate(342.8,13.0) scale(0.83,1)" class="ti" fill="#0000ff" stroke="#0000ff">XD</text>
<text transform="translate(562.2,13.5) scale(0.83,1)" class="ti" fill="#70ad47" stroke="#70ad47">XPT</text>
<text x="2.3" y="15.6" class="pl">a)</text>
<text x="-0.5" y="143.5" class="pl">b)</text>
<text transform="translate(666.3,74) rotate(90)" class="sh"><tspan fill="#ff0000">70305</tspan><tspan fill="#000">, </tspan><tspan fill="#0000ff">70306, </tspan><tspan fill="#00b050">70302</tspan></text>
</svg>
</body></html>
